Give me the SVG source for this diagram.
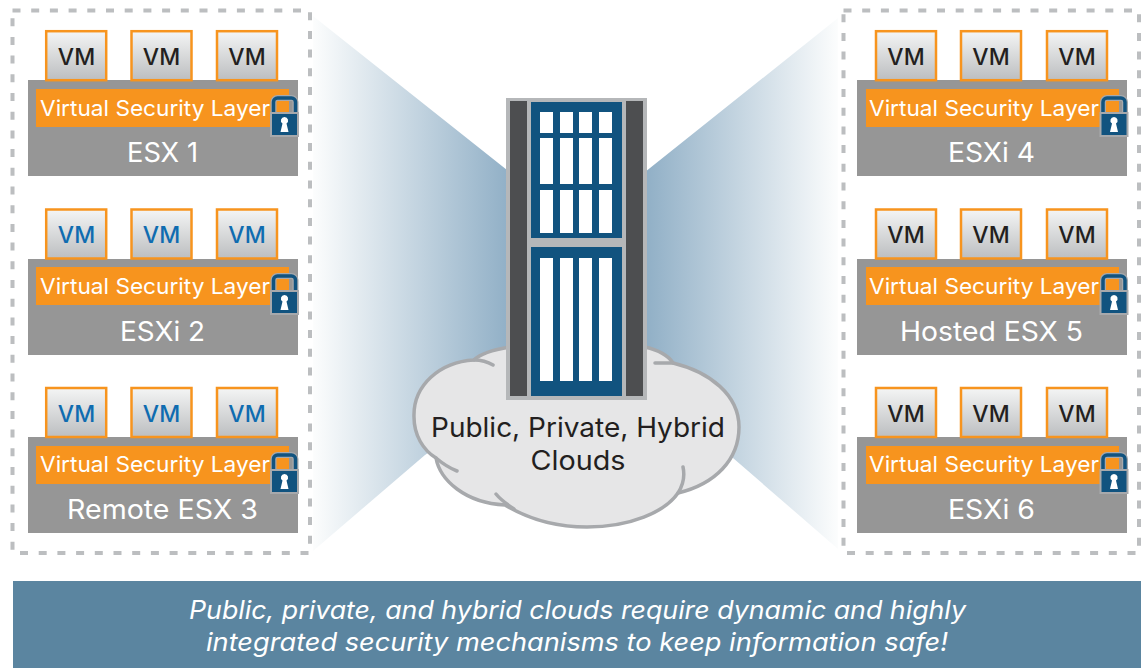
<svg xmlns="http://www.w3.org/2000/svg" xmlns:xlink="http://www.w3.org/1999/xlink" width="1141" height="668" viewBox="0 0 1141 668">
<style>
text{font-family:"Inter","Noto Sans","Liberation Sans",sans-serif;font-weight:400}
.dash{fill:none;stroke:#bcbec0;stroke-width:4;stroke-dasharray:8 10.700}
.host{fill:#969696}
.layer{fill:#f7941e}
.vm{fill:url(#vmg);stroke:#f7941e;stroke-width:2.500}
.vt{font-size:23px;font-weight:500;text-anchor:middle;fill:#231f20}
.vb{font-size:23px;font-weight:500;text-anchor:middle;fill:#0f6cb0}
.lt{font-size:22px;fill:#fff}
.ht{font-size:27px;text-anchor:middle;fill:#fff}
.cl{font-size:27px;text-anchor:middle;fill:#231f20}
.bn{font-size:25.500px;font-style:italic;text-anchor:middle;fill:#fff}
.slot{fill:#fff}
</style>
<defs>
<linearGradient id="vmg" x1="0" y1="0" x2="0" y2="1"><stop offset="0" stop-color="#f4f5f5"/><stop offset="1" stop-color="#bcbec0"/></linearGradient>
<linearGradient id="wl" gradientUnits="userSpaceOnUse" x1="313" y1="0" x2="510" y2="0"><stop offset="0" stop-color="#fcfdfd"/><stop offset="1" stop-color="#90afc6"/></linearGradient>
<linearGradient id="wr" gradientUnits="userSpaceOnUse" x1="838" y1="0" x2="645" y2="0"><stop offset="0" stop-color="#fcfdfd"/><stop offset="1" stop-color="#90afc6"/></linearGradient>
<g id="lock">
<path d="M-11,0V-12a4,4 0 0 1 4,-4H7a4,4 0 0 1 4,4V0" fill="none" stroke="#a7a9ac" stroke-width="6"/>
<path d="M-11,0V-12a4,4 0 0 1 4,-4H7a4,4 0 0 1 4,4V0" fill="none" stroke="#11537f" stroke-width="3.5"/>
<rect x="-13.5" y="-1" width="27" height="23" fill="#11537f" stroke="#a7a9ac" stroke-width="2"/>
<path d="M0,3a3.6,3.6 0 0 1 2,6.6L4,18H-4L-2,9.6A3.6,3.6 0 0 1 0,3Z" fill="#fff"/>
</g>
</defs>
<g id="connectors">
<polygon points="313,16 507,170 507,400 425,455 313,551" fill="url(#wl)"/>
<polygon points="838,18 645,172 645,400 733,458 838,549" fill="url(#wr)"/>
</g>
<g id="zone-left"><rect class="dash" x="12.500" y="10.500" width="297.500" height="542.500"/></g>
<g id="zone-right"><rect class="dash" x="843.500" y="10.500" width="295.500" height="542.500"/></g>

<g id="host1"><rect class="host" x="28" y="80" width="270" height="96"/>
<rect class="vm" x="46.200" y="31.200" width="60" height="49"/><rect class="vm" x="131.500" y="31.200" width="60" height="49"/><rect class="vm" x="217" y="31.200" width="60" height="49"/>
<text class="vt" x="76.500" y="65">VM</text><text class="vt" x="161.500" y="65">VM</text><text class="vt" x="247" y="65">VM</text>
<rect class="layer" x="36" y="89" width="253" height="38"/><text class="lt" x="40" y="116" textLength="230" lengthAdjust="spacingAndGlyphs">Virtual Security Layer</text>
<use xlink:href="#lock" href="#lock" x="284.500" y="114"/><text class="ht" x="162.500" y="162" textLength="71" lengthAdjust="spacingAndGlyphs">ESX 1</text></g>

<g id="host2"><rect class="host" x="28" y="259" width="270" height="96"/>
<rect class="vm" x="46.200" y="209.500" width="60" height="49"/><rect class="vm" x="131.500" y="209.500" width="60" height="49"/><rect class="vm" x="217" y="209.500" width="60" height="49"/>
<text class="vb" x="76.500" y="243">VM</text><text class="vb" x="161.500" y="243">VM</text><text class="vb" x="247" y="243">VM</text>
<rect class="layer" x="36" y="267" width="253" height="38"/><text class="lt" x="40" y="294" textLength="230" lengthAdjust="spacingAndGlyphs">Virtual Security Layer</text>
<use xlink:href="#lock" href="#lock" x="284.500" y="292"/><text class="ht" x="162.500" y="341" textLength="85" lengthAdjust="spacingAndGlyphs">ESXi 2</text></g>

<g id="host3"><rect class="host" x="28" y="437" width="270" height="96"/>
<rect class="vm" x="46.200" y="388" width="60" height="49"/><rect class="vm" x="131.500" y="388" width="60" height="49"/><rect class="vm" x="217" y="388" width="60" height="49"/>
<text class="vb" x="76.500" y="422">VM</text><text class="vb" x="161.500" y="422">VM</text><text class="vb" x="247" y="422">VM</text>
<rect class="layer" x="36" y="446" width="253" height="38"/><text class="lt" x="40" y="472" textLength="230" lengthAdjust="spacingAndGlyphs">Virtual Security Layer</text>
<use xlink:href="#lock" href="#lock" x="284.500" y="471"/><text class="ht" x="162.500" y="519" textLength="191" lengthAdjust="spacingAndGlyphs">Remote ESX 3</text></g>

<g id="host4"><rect class="host" x="857" y="80" width="270" height="96"/>
<rect class="vm" x="876" y="31.200" width="60" height="49"/><rect class="vm" x="961" y="31.200" width="60" height="49"/><rect class="vm" x="1047" y="31.200" width="60" height="49"/>
<text class="vt" x="906" y="65">VM</text><text class="vt" x="991" y="65">VM</text><text class="vt" x="1077" y="65">VM</text>
<rect class="layer" x="866" y="89" width="253" height="38"/><text class="lt" x="869" y="116" textLength="230" lengthAdjust="spacingAndGlyphs">Virtual Security Layer</text>
<use xlink:href="#lock" href="#lock" x="1114" y="114"/><text class="ht" x="991.500" y="162" textLength="87" lengthAdjust="spacingAndGlyphs">ESXi 4</text></g>

<g id="host5"><rect class="host" x="857" y="259" width="270" height="96"/>
<rect class="vm" x="876" y="209.500" width="60" height="49"/><rect class="vm" x="961" y="209.500" width="60" height="49"/><rect class="vm" x="1047" y="209.500" width="60" height="49"/>
<text class="vt" x="906" y="243">VM</text><text class="vt" x="991" y="243">VM</text><text class="vt" x="1077" y="243">VM</text>
<rect class="layer" x="866" y="267" width="253" height="38"/><text class="lt" x="869" y="294" textLength="230" lengthAdjust="spacingAndGlyphs">Virtual Security Layer</text>
<use xlink:href="#lock" href="#lock" x="1114" y="292"/><text class="ht" x="991.500" y="341" textLength="183" lengthAdjust="spacingAndGlyphs">Hosted ESX 5</text></g>

<g id="host6"><rect class="host" x="857" y="437" width="270" height="96"/>
<rect class="vm" x="876" y="388" width="60" height="49"/><rect class="vm" x="961" y="388" width="60" height="49"/><rect class="vm" x="1047" y="388" width="60" height="49"/>
<text class="vt" x="906" y="422">VM</text><text class="vt" x="991" y="422">VM</text><text class="vt" x="1077" y="422">VM</text>
<rect class="layer" x="866" y="446" width="253" height="38"/><text class="lt" x="869" y="472" textLength="230" lengthAdjust="spacingAndGlyphs">Virtual Security Layer</text>
<use xlink:href="#lock" href="#lock" x="1114" y="471"/><text class="ht" x="991.500" y="519" textLength="87" lengthAdjust="spacingAndGlyphs">ESXi 6</text></g>

<g id="cloud">
<path d="M510,347C492,350 480,354 474,360C440,362 413,385 414,417C414,435 423,450 436,458C440,480 465,503 505,505C530,520 555,527 587,527C630,527 665,512 678,493C715,484 739,460 739,427C739,395 710,372 673,363C668,355 658,350 645,347Z" fill="#e6e6e7" stroke="#a7a9ac" stroke-width="3.500"/>
<path d="M474,360C481,360 488,362 493,365M436,458C442,463 449,468 457,471M496,494C500,499 505,503 514,509M678,493C683,485 685,476 683,467M655,363C661,363 667,363 673,363" fill="none" stroke="#a7a9ac" stroke-width="3.500" stroke-linecap="round"/>
<text class="cl" x="578" y="437" textLength="294" lengthAdjust="spacingAndGlyphs">Public, Private, Hybrid</text>
<text class="cl" x="578" y="470" textLength="95" lengthAdjust="spacingAndGlyphs">Clouds</text>
</g>

<g id="firewall">
<rect x="506" y="98" width="141" height="302" fill="#b5b7b9"/>
<rect x="510" y="101" width="17" height="295" fill="#4d4e50"/>
<rect x="626" y="101" width="17" height="295" fill="#4d4e50"/>
<rect x="531" y="102" width="91" height="136" fill="#11537f"/>
<rect x="531" y="247" width="91" height="149" fill="#11537f"/>
<path class="slot" d="M540,112h13v21h-13zM560,112h13v21h-13zM579,112h13v21h-13zM599,112h13v21h-13zM540,138h13v46h-13zM560,138h13v46h-13zM579,138h13v46h-13zM599,138h13v46h-13zM540,190h13v43h-13zM560,190h13v43h-13zM579,190h13v43h-13zM599,190h13v43h-13zM540,258h13v123h-13zM560,258h13v123h-13zM579,258h13v123h-13zM599,258h13v123h-13z"/>
</g>

<g id="banner">
<rect x="13" y="581" width="1128" height="87" fill="#5b85a0"/>
<text class="bn" x="577.500" y="619" textLength="777" lengthAdjust="spacingAndGlyphs">Public, private, and hybrid clouds require dynamic and highly</text>
<text class="bn" x="577" y="651" textLength="742" lengthAdjust="spacingAndGlyphs">integrated security mechanisms to keep information safe!</text>
</g>
</svg>
